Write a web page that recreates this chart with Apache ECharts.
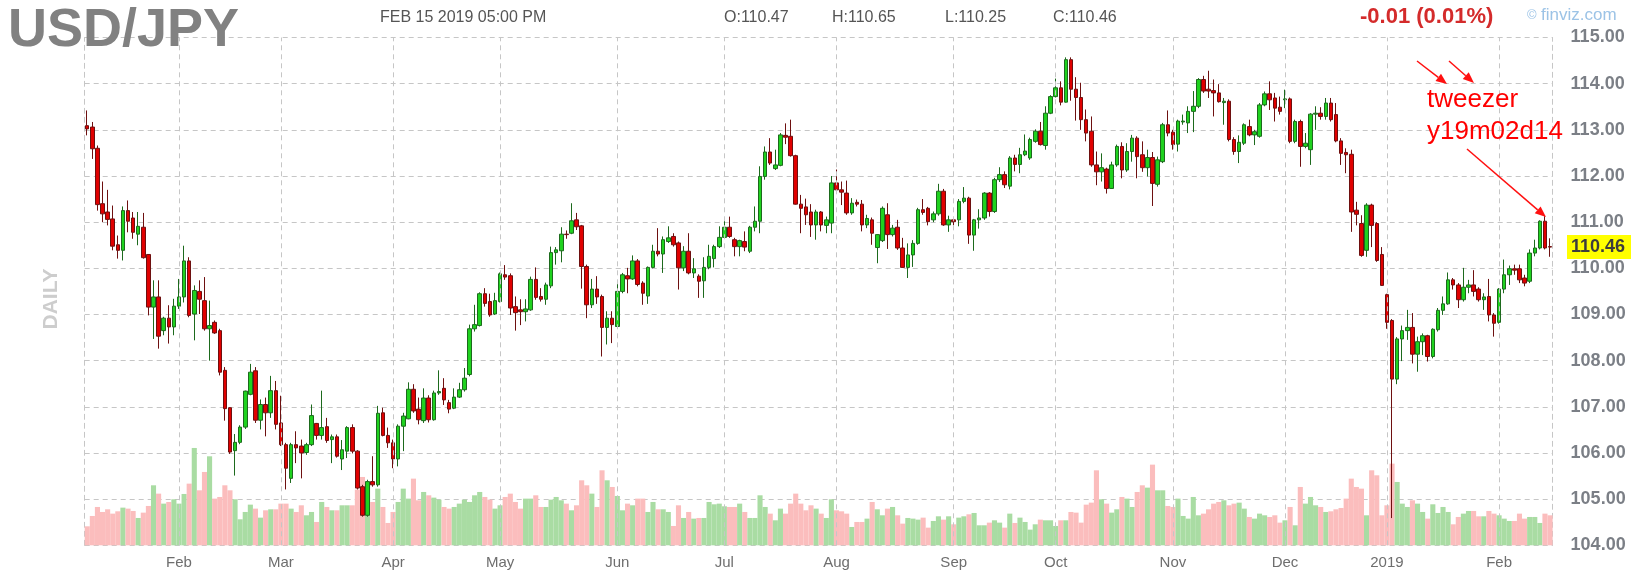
<!DOCTYPE html>
<html><head><meta charset="utf-8">
<script src="https://cdn.jsdelivr.net/npm/echarts@6/dist/echarts.min.js"></script>
<style>html,body{margin:0;padding:0;background:#fff;}#chart{width:1646px;height:587px;}</style>
</head><body><div id="chart"></div>
<script>
// ---------- data ----------
const startDate = '2018-01-08';
const endDate = '2019-02-15';
const closedDays = ['2018-12-25', '2019-01-01'];
const monthNames = ['Jan','Feb','Mar','Apr','May','Jun','Jul','Aug','Sep','Oct','Nov','Dec'];
const priceTicks = { min: 104, max: 115, step: 1 };

// daily candles: [open, high, low, close]
const candles = [
// Jan 2018
[113.09,113.42,112.88,113.02],[113.06,113.17,112.37,112.59],[112.60,112.66,111.25,111.38],[111.40,111.88,111.00,111.18],
[111.22,111.70,110.93,111.06],[111.07,111.36,110.39,110.48],[110.51,110.71,110.21,110.39],[110.39,111.34,110.17,111.25],
[111.25,111.47,110.78,111.02],[111.09,111.22,110.64,110.78],[110.74,111.22,110.50,110.91],[110.89,111.20,110.21,110.23],
[110.30,110.31,108.98,109.16],[109.16,109.74,108.47,109.38],[109.38,109.74,108.26,108.53],[108.65,108.95,108.55,108.92],
[108.92,109.20,108.37,108.73],[108.73,109.34,108.55,109.18],
// Feb 2018
[109.18,109.77,109.12,109.38],[109.38,110.49,109.26,110.16],[110.16,110.24,108.94,108.98],[109.01,109.63,108.44,109.52],
[109.50,109.74,109.01,109.33],[109.30,109.81,108.65,108.69],[108.69,109.30,108.00,108.76],[108.83,108.87,108.58,108.60],
[108.65,108.69,107.68,107.75],[107.79,107.86,106.70,106.96],[106.98,106.99,105.98,106.02],[106.05,106.41,105.51,106.23],
[106.23,106.60,106.19,106.56],[106.56,107.35,106.52,107.34],[107.27,107.93,107.25,107.75],[107.78,107.86,106.65,106.71],
[106.71,107.16,106.51,107.05],[107.05,107.20,106.36,106.87],[106.87,107.67,106.76,107.35],[107.35,107.56,106.51,106.62],
// Mar 2018
[106.65,107.24,106.15,106.18],[106.18,106.22,105.21,105.67],[105.45,106.22,105.35,106.18],[106.18,106.47,105.78,106.11],
[106.15,106.29,105.45,106.00],[106.01,106.22,105.96,106.18],[106.18,107.05,106.15,106.81],[106.64,106.65,106.29,106.38],
[106.38,107.35,106.29,106.55],[106.57,106.76,106.22,106.27],[106.29,106.40,105.78,106.35],[106.35,106.40,105.90,105.93],
[105.87,106.28,105.63,106.07],[106.04,106.58,105.89,106.55],[106.55,106.62,105.99,106.04],[106.04,106.06,105.21,105.24],
[105.27,105.31,104.62,104.65],[104.65,105.42,104.62,105.38],[105.38,105.93,105.27,105.31],[105.31,107.02,105.27,106.86],
[106.87,106.98,106.36,106.38],[106.38,106.55,106.11,106.22],
// Apr 2018
[106.22,106.29,105.67,105.87],[105.87,106.62,105.71,106.58],[106.58,106.87,106.04,106.80],[106.74,107.53,106.73,107.38],
[107.38,107.49,106.87,106.91],[106.95,107.20,106.62,106.72],[106.70,107.40,106.65,107.19],[107.19,107.25,106.66,106.72],
[106.72,107.35,106.70,107.30],[107.30,107.79,107.26,107.33],[107.40,107.62,107.04,107.15],[107.09,107.15,106.86,106.95],
[106.97,107.40,106.95,107.21],[107.21,107.52,107.19,107.37],[107.37,107.84,107.33,107.62],[107.70,108.78,107.66,108.69],
[108.69,109.21,108.63,108.78],[108.76,109.48,108.74,109.45],[109.45,109.57,109.17,109.24],[109.28,109.45,108.95,108.99],
[109.01,109.47,108.99,109.30],
// May 2018
[109.28,109.91,109.26,109.88],[109.86,110.07,109.75,109.81],[109.84,109.89,108.99,109.14],[109.17,109.39,108.65,109.04],
[109.10,109.33,108.77,109.06],[109.06,109.33,108.85,109.12],[109.10,109.82,109.08,109.76],[109.76,110.02,109.32,109.37],
[109.39,109.57,109.28,109.33],[109.33,109.69,109.21,109.64],[109.62,110.47,109.57,110.34],[110.34,110.46,110.08,110.40],
[110.38,110.89,110.13,110.74],[110.74,110.82,110.64,110.73],[110.76,111.41,110.74,111.03],[111.05,111.20,110.83,110.90],
[110.92,110.94,109.56,110.04],[110.04,110.08,108.92,109.21],[109.21,109.77,109.14,109.55],[109.55,109.83,109.23,109.38],
[109.39,109.43,108.09,108.72],[108.72,109.07,108.35,108.92],[108.92,109.07,108.38,108.78],
// Jun 2018
[108.74,109.72,108.72,109.50],[109.50,109.90,109.46,109.86],[109.84,110.01,109.46,109.77],[109.77,110.28,109.75,110.16],
[110.16,110.20,109.61,109.65],[109.68,109.72,109.21,109.46],[109.40,110.04,109.23,110.02],[110.02,110.51,110.00,110.37],
[110.37,110.87,110.26,110.31],[110.31,110.69,109.90,110.62],[110.58,110.91,110.55,110.66],[110.69,110.76,110.47,110.51],
[110.55,110.58,109.54,110.01],[110.01,110.48,109.94,110.37],[110.37,110.76,109.87,109.90],[109.90,110.22,109.79,109.99],
[109.83,109.87,109.36,109.72],[109.73,110.24,109.36,110.02],[110.02,110.51,109.98,110.26],[110.21,110.51,110.02,110.47],
[110.47,110.91,110.44,110.67],
// Jul 2018
[110.67,111.05,110.64,110.89],[110.89,111.12,110.66,110.69],[110.62,110.66,110.26,110.47],[110.47,110.62,110.26,110.60],
[110.58,110.80,110.37,110.46],[110.37,110.92,110.33,110.89],[110.89,111.34,110.80,111.02],[111.02,112.21,110.76,111.99],
[111.99,112.64,111.92,112.52],[112.52,112.82,112.24,112.28],[112.16,112.57,112.13,112.24],[112.23,112.93,112.21,112.89],
[112.88,113.14,112.69,112.84],[112.86,113.22,112.42,112.44],[112.44,112.46,111.38,111.39],[111.39,111.59,110.76,111.30],
[111.33,111.51,110.94,111.16],[111.22,111.39,110.68,110.94],[110.94,111.27,110.62,111.22],[111.22,111.24,110.80,110.94],
[110.93,111.12,110.76,111.05],[110.98,112.00,110.76,111.85],
// Aug 2018
[111.85,112.14,111.62,111.70],[111.70,111.88,111.37,111.65],[111.63,111.90,111.16,111.20],[111.20,111.52,111.16,111.41],
[111.43,111.49,111.34,111.39],[111.39,111.48,110.80,110.94],[110.94,111.16,110.87,111.08],[111.05,111.10,110.51,110.76],
[110.45,110.74,110.11,110.73],[110.60,111.34,110.57,111.30],[111.16,111.41,110.42,110.73],[110.73,110.94,110.69,110.87],
[110.89,111.05,110.40,110.44],[110.44,110.66,110.01,110.02],[110.02,110.54,109.79,110.29],[110.29,110.61,110.03,110.54],
[110.54,111.31,110.51,111.27],[111.27,111.50,111.16,111.21],[111.30,111.33,110.93,111.01],[111.05,111.23,111.00,111.18],
[111.18,111.83,111.14,111.67],[111.67,111.72,110.92,110.94],[110.94,111.14,110.79,111.05],
// Sep 2018
[111.05,111.09,110.93,111.01],[111.05,111.50,110.91,111.45],[111.45,111.76,111.41,111.52],[111.52,111.55,110.53,110.72],
[110.72,111.07,110.38,111.05],[111.05,111.28,110.86,111.09],[111.09,111.65,111.05,111.63],[111.63,111.65,111.12,111.23],
[111.23,111.96,111.20,111.92],[111.92,112.19,111.87,112.03],[112.03,112.10,111.74,111.81],[111.78,112.43,111.71,112.39],
[112.39,112.46,112.10,112.25],[112.25,112.61,112.06,112.46],[112.46,112.90,112.43,112.54],[112.39,112.83,112.35,112.79],
[112.75,113.01,112.72,112.97],[112.97,113.17,112.66,112.68],[112.66,113.51,112.57,113.36],[113.36,113.75,113.34,113.72],
// Oct 2018
[113.72,114.11,113.70,113.91],[113.91,114.05,113.53,113.60],[113.60,114.57,113.59,114.52],[114.52,114.57,113.63,113.88],
[113.88,114.14,113.20,113.70],[113.70,114.02,113.00,113.22],[113.22,113.44,112.75,112.93],[112.97,113.29,112.20,112.24],
[112.24,112.53,111.80,112.09],[112.09,112.49,111.88,112.18],[112.15,112.18,111.62,111.73],[111.73,112.31,111.72,112.24],
[112.24,112.68,112.20,112.64],[112.64,112.73,111.95,112.13],[112.13,112.71,112.09,112.53],[112.53,112.89,112.31,112.82],
[112.82,112.86,111.95,112.42],[112.46,112.75,112.09,112.18],[112.18,112.57,111.99,112.40],[112.40,112.52,111.35,111.84],
[111.82,112.42,111.77,112.35],[112.31,113.15,112.28,113.11],[113.11,113.42,112.86,112.93],
// Nov 2018
[112.95,113.00,112.57,112.68],[112.69,113.22,112.53,113.19],[113.17,113.33,113.11,113.19],[113.15,113.51,112.93,113.40],
[113.40,113.84,112.95,113.51],[113.51,114.12,113.47,114.09],[114.09,114.17,113.80,113.84],[113.88,114.28,113.69,113.84],
[113.85,114.09,113.29,113.80],[113.80,113.99,113.59,113.61],[113.59,113.69,113.11,113.62],[113.62,113.66,112.75,112.79],
[112.79,112.84,112.46,112.53],[112.53,112.88,112.28,112.73],[112.71,113.14,112.67,113.11],[113.07,113.22,112.86,112.89],
[112.89,113.00,112.67,112.96],[112.86,113.58,112.83,113.54],[113.54,113.83,113.51,113.78],[113.78,114.05,113.43,113.65],
[113.69,113.80,113.18,113.47],[113.49,113.72,113.33,113.40],
// Dec 2018
[113.65,113.87,113.47,113.67],[113.67,113.70,112.71,112.75],[112.75,113.22,112.71,113.18],[113.18,113.22,112.20,112.64],
[112.64,112.93,112.60,112.71],[112.57,113.36,112.24,113.34],[113.34,113.51,113.00,113.36],[113.36,113.49,113.22,113.29],
[113.29,113.69,113.22,113.58],[113.58,113.69,113.18,113.22],[113.33,113.58,112.73,112.76],[112.76,112.82,112.24,112.49],
[112.51,112.60,112.06,112.46],[112.47,112.57,110.79,111.22],[111.26,111.44,110.93,111.17],[110.97,111.15,110.25,110.28],
[110.39,111.41,110.25,111.37],[111.37,111.40,110.46,110.93],[110.97,111.00,110.14,110.17],[110.30,110.46,109.62,109.63],
// Jan 2019
[109.43,109.45,108.69,108.83],[108.87,108.90,104.59,107.60],[107.60,108.51,107.49,108.47],[108.47,108.76,107.99,108.65],
[108.65,109.10,108.45,108.72],[108.72,109.03,107.94,108.14],[108.14,108.52,107.76,108.41],[108.41,108.59,108.12,108.54],
[108.54,108.56,107.98,108.09],[108.09,108.70,108.05,108.68],[108.67,109.14,108.63,109.09],[109.09,109.39,108.99,109.23],
[109.23,109.91,109.21,109.75],[109.75,109.79,109.54,109.64],[109.64,109.68,109.14,109.32],[109.32,110.01,109.28,109.59],
[109.59,109.75,109.46,109.64],[109.64,109.96,109.39,109.50],[109.55,109.59,109.28,109.32],[109.32,109.46,109.10,109.38],
[109.39,109.77,108.85,108.99],[108.99,109.03,108.52,108.81],
// Feb 2019
[108.83,109.57,108.80,109.55],[109.55,110.19,109.46,109.86],[109.86,110.06,109.64,109.99],[109.99,110.08,109.86,109.96],
[109.99,110.08,109.68,109.75],[109.79,109.86,109.61,109.68],[109.72,110.41,109.68,110.33],[110.33,110.62,110.26,110.44],
[110.44,111.04,110.41,111.02],[111.02,111.13,110.41,110.44],[110.47,110.65,110.25,110.46]
];

// daily volume (relative units)
const volumes = [
57,88,115,100,108,95,102,113,110,103,82,98,118,180,155,125,130,138,
125,154,185,292,165,220,267,140,145,180,165,138,78,100,122,110,83,105,108,108,
125,125,110,100,120,90,100,70,130,115,105,105,120,120,120,167,205,190,130,170,115,67,
100,130,170,140,200,135,160,150,143,137,115,110,115,125,137,130,150,160,145,137,110,
120,145,155,130,110,140,140,150,115,115,137,145,135,125,105,120,195,180,155,115,225,195,175,
148,105,125,120,140,140,100,130,108,108,100,58,120,82,100,80,82,82,130,123,125,
117,115,115,125,100,82,82,150,115,95,75,110,95,125,155,125,105,120,110,95,82,138,
105,102,95,55,70,70,80,130,108,90,110,115,90,65,82,80,77,83,53,73,87,77,87,
63,83,87,93,97,60,60,68,75,68,53,95,67,83,70,47,63,77,75,75,
58,75,75,100,98,68,122,128,225,138,125,98,108,145,140,115,160,180,173,242,165,165,118,
115,140,88,80,145,90,95,108,125,130,135,120,125,128,110,85,80,95,90,85,90,68,
75,115,60,175,125,145,120,115,100,102,108,112,140,200,175,170,90,225,210,90,
120,245,190,125,115,135,125,100,80,123,97,115,100,63,85,95,103,103,87,87,103,95,
90,80,73,73,95,80,85,85,67,95,90
];

const headerDate = 'FEB 15 2019 05:00 PM';
const changeText = '-0.01 (0.01%)';
const noteLines = ['tweezer', 'y19m02d14'];

// ---------- build ----------
function buildDates() {
  const out = [];
  let d = new Date(startDate + 'T00:00:00Z');
  const end = new Date(endDate + 'T00:00:00Z');
  while (d <= end) {
    const dow = d.getUTCDay();
    const s = d.toISOString().slice(0, 10);
    if (dow !== 0 && dow !== 6 && closedDays.indexOf(s) < 0) out.push(s);
    d = new Date(d.getTime() + 86400000);
  }
  return out;
}
const dates = buildDates();
const monthStart = {};
for (let i = 1; i < dates.length; i++) {
  if (dates[i].slice(5, 7) !== dates[i - 1].slice(5, 7)) monthStart[i] = true;
}
function monthLabel(s) {
  const m = +s.slice(5, 7);
  return m === 1 ? s.slice(0, 4) : monthNames[m - 1];
}
const kData = candles.map(c => [c[0], c[3], c[2], c[1]]);
const upFill = '#1fd21f', downFill = '#e00000';
const volData = volumes.map((v, i) => ({
  value: v,
  itemStyle: { color: candles[i][3] >= candles[i][0] ? '#a9dca3' : '#fbbdbd' }
}));

const GRID = { left: 84.7, right: 93.4, top: 37.5, bottom: 41.7 };
const gridH = 587 - GRID.top - GRID.bottom;
const FONT = '"Liberation Sans", Arial, sans-serif';
const dash = [5, 4];
const gridColor = '#c6c6c6';

const chart = echarts.init(document.getElementById('chart'), null, { renderer: 'canvas' });
chart.setOption({
  animation: false,
  backgroundColor: '#ffffff',
  grid: Object.assign({ outerBoundsMode: 'none', containLabel: false }, GRID),
  xAxis: {
    type: 'category',
    data: dates,
    boundaryGap: true,
    axisLine: { show: false },
    axisTick: { show: false },
    splitLine: { show: false },
    axisLabel: {
      interval: (idx) => !!monthStart[idx],
      formatter: (v) => monthLabel(v),
      color: '#6e6e6e',
      fontSize: 15,
      fontFamily: FONT,
      margin: 10
    }
  },
  yAxis: [
    {
      type: 'value', position: 'right',
      min: priceTicks.min, max: priceTicks.max, interval: priceTicks.step,
      axisLine: { show: true, lineStyle: { color: gridColor, type: dash, width: 1 } },
      axisTick: { show: false },
      splitLine: { show: true, lineStyle: { color: gridColor, type: dash, width: 1 } },
      axisLabel: {
        formatter: (v) => v.toFixed(2),
        color: '#7b7f86', fontSize: 18, fontWeight: 'bold', fontFamily: FONT, margin: 18
      }
    },
    {
      type: 'value', position: 'left', min: 0, max: gridH * 3,
      axisLine: { show: true, lineStyle: { color: gridColor, type: dash, width: 1 } },
      axisTick: { show: false }, axisLabel: { show: false }, splitLine: { show: false }
    }
  ],
  series: [
    {
      name: 'Volume', type: 'bar', xAxisIndex: 0, yAxisIndex: 1,
      data: volData, barCategoryGap: '0%', barGap: '0%', z: 1, silent: true,
      markLine: {
        silent: true, symbol: 'none', label: { show: false },
        lineStyle: { color: gridColor, type: dash, width: 1 },
        data: Object.keys(monthStart).map(i => ({ xAxis: dates[+i] }))
      }
    },
    {
      name: 'USDJPY', type: 'candlestick', xAxisIndex: 0, yAxisIndex: 0,
      data: kData, barWidth: 4, z: 3,
      itemStyle: {
        color: upFill, color0: downFill,
        borderColor: '#1d6a1d', borderColor0: '#6e1010', borderWidth: 1
      }
    }
  ]
});

// ---------- header, price tag and annotations ----------
const last = candles[candles.length - 1];
const tagY = chart.convertToPixel({ yAxisIndex: 0 }, last[3]);
function txt(text, x, y, font, fill, align) {
  return { type: 'text', silent: true, z: 100,
    style: { text, x, y, font, fill, textAlign: align || 'left', textVerticalAlign: 'middle',
             align: align || 'left', verticalAlign: 'middle' } };
}
function arrow(x1, y1, x2, y2) {
  const a = Math.atan2(y2 - y1, x2 - x1), L = 11, W = 4.5;
  const bx = x2 - L * Math.cos(a), by = y2 - L * Math.sin(a);
  return [
    { type: 'line', silent: true, z: 100, shape: { x1, y1, x2: bx, y2: by }, style: { stroke: '#ff1010', lineWidth: 1.5 } },
    { type: 'polygon', silent: true, z: 100,
      shape: { points: [[x2, y2], [bx - W * Math.sin(a), by + W * Math.cos(a)], [bx + W * Math.sin(a), by - W * Math.cos(a)]] },
      style: { fill: '#ff1010' } }
  ];
}
const hdrFont = '16px ' + FONT;
const els = [
  txt('USD/JPY', 8, 31, 'bold 54px ' + FONT, '#818181'),
  txt(headerDate, 380, 18, hdrFont, '#555555'),
  txt('O:' + last[0].toFixed(2), 724, 18, hdrFont, '#555555'),
  txt('H:' + last[1].toFixed(2), 832, 18, hdrFont, '#555555'),
  txt('L:' + last[2].toFixed(2), 945, 18, hdrFont, '#555555'),
  txt('C:' + last[3].toFixed(2), 1053, 18, hdrFont, '#555555'),
  txt(changeText, 1360, 17, 'bold 22px ' + FONT, '#d42b2b'),
  txt('\u00A9', 1527, 15, '13px ' + FONT, '#9cc3e6'),
  txt('finviz.com', 1541, 15, '17px ' + FONT, '#9cc3e6'),
  { type: 'text', silent: true, z: 100, x: 51, y: 299, rotation: Math.PI / 2,
    style: { text: 'DAILY', x: 0, y: 0, font: 'bold 21px ' + FONT, fill: '#cdcdcd',
             textAlign: 'center', textVerticalAlign: 'middle', align: 'center', verticalAlign: 'middle' } },
  { type: 'rect', silent: true, z: 99, shape: { x: 1567, y: tagY - 12, width: 64, height: 24 }, style: { fill: '#ffff00' } },
  txt(last[3].toFixed(2), 1571, tagY, 'bold 18px ' + FONT, '#3d3d3d'),
  txt(noteLines[0], 1427, 100, '26px ' + FONT, '#ff0000'),
  txt(noteLines[1], 1427, 132, '26px ' + FONT, '#ff0000')
].concat(arrow(1417, 61, 1447, 84), arrow(1449, 61, 1474, 83), arrow(1467, 149, 1546, 217));
chart.setOption({ graphic: { elements: els } });
</script>
</body></html>
